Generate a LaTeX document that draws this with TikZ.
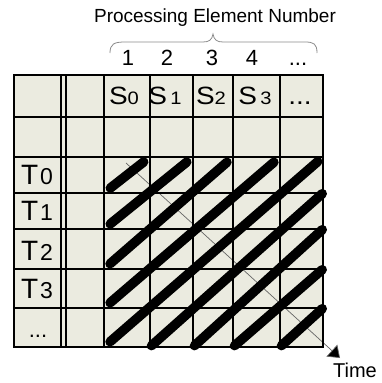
\documentclass[tikz,border=0pt]{standalone}
\usepackage{fontspec}
\setmainfont{Liberation Sans}
\usetikzlibrary{arrows.meta}
\definecolor{cellfill}{HTML}{EBEBE0}
\definecolor{thingray}{HTML}{666666}
\definecolor{bracegray}{HTML}{8C8C8C}
\begin{document}
\begin{tikzpicture}[x=1pt,y=-1pt,
  gridline/.style={line width=2pt, black, line cap=rect},
  bar/.style={line width=9.5pt, line cap=round, black},
  thinline/.style={line width=0.7pt, thingray},
  title/.style={font=\fontsize{19}{19}\selectfont, inner sep=0pt},
  numlbl/.style={font=\fontsize{22}{22}\selectfont, inner sep=0pt, anchor=base},
  slbl/.style={font=\fontsize{25}{25}\selectfont, inner sep=0pt, anchor=base, xscale=1.12},
  tlbl/.style={font=\fontsize{28}{28}\selectfont, inner sep=0pt, anchor=base},
  timelbl/.style={font=\fontsize{20}{20}\selectfont, inner sep=0pt, anchor=base}]
\useasboundingbox (0,0) rectangle (382,383);
% cells
\fill[cellfill] (14,75) rectangle (323,347);
% thin diagonal with arrow
\coordinate (ds) at (126,163);
\coordinate (de) at (340,358);
\draw[thinline, -{Triangle[length=11pt,width=16pt,fill=black]}] (ds) -- (de);
% grid
\foreach \y in {75,117,157,193,229,269,308,347}
  \draw[gridline] (14,\y) -- (323,\y);
\foreach \x in {14,61,66,104,150,193,233,280,323}
  \draw[gridline] (\x,75) -- (\x,347);
% thick bars
\draw[bar, shorten <=8pt, shorten >=8pt] (104,193) -- (150,157);
\draw[bar, shorten <=8pt, shorten >=8pt] (104,229) -- (193,157);
\draw[bar, shorten <=8pt, shorten >=8pt] (104,269) -- (233,157);
\draw[bar, shorten <=8pt, shorten >=8pt] (104,308) -- (280,157);
\draw[bar, shorten <=8pt, shorten >=7pt] (104,347) -- (323,157);
\draw[bar, shorten <=2pt, shorten >=1pt] (150,347) -- (323,193);
\draw[bar, shorten <=2pt, shorten >=1pt] (193,347) -- (323,229);
\draw[bar, shorten <=2pt, shorten >=1pt] (233,347) -- (323,269);
\draw[bar, shorten <=2pt, shorten >=1pt] (280,347) -- (323,308);
% title and brace
\node[title] (ttl) at (215,18) {Processing Element Number};
\draw[bracegray, line width=0.8pt] (110,53) .. controls (110,44) and (114,42) .. (125,42) -- (203,42)
  .. controls (209,42) and (212,40) .. (213,34) .. controls (214,40) and (217,42) .. (223,42)
  -- (305,42) .. controls (314,42) and (317,44) .. (317,53);
\node[numlbl] (n1) at (128,65) {1};
\node[numlbl] (n2) at (167,65) {2};
\node[numlbl] (n3) at (212,65) {3};
\node[numlbl] (n4) at (252,65) {4};
\node[numlbl] (n5) at (298,65) {...};
% S labels
\node[slbl] (s0) at (124,104) {S\fontsize{18}{18}\selectfont 0};
\node[slbl] (s1) at (165,104) {S\kern3pt\fontsize{18}{18}\selectfont 1};
\node[slbl] (s2) at (211,104) {S\fontsize{18}{18}\selectfont 2};
\node[slbl] (s3) at (255,104) {S\kern3pt\fontsize{18}{18}\selectfont 3};
\node[slbl] (s4) at (300,104) {...};
% T labels
\node[tlbl] (t0) at (37,184) {T\kern2pt\fontsize{23}{23}\selectfont 0};
\node[tlbl] (t1) at (37,220) {T\kern2pt\fontsize{23}{23}\selectfont 1};
\node[tlbl] (t2) at (37,260) {T\kern2pt\fontsize{23}{23}\selectfont 2};
\node[tlbl] (t3) at (37,298) {T\kern2pt\fontsize{23}{23}\selectfont 3};
\node[numlbl] (t4) at (38,337) {...};
% Time
\node[timelbl] (time) at (355,377) {Time};
\end{tikzpicture}
\end{document}
